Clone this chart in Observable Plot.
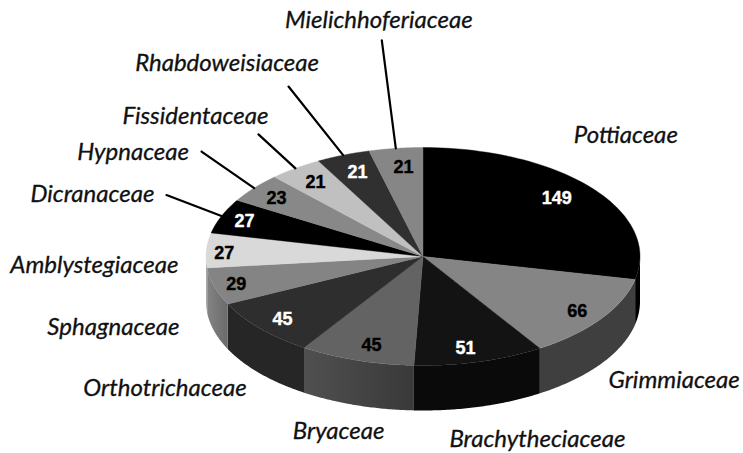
<!DOCTYPE html>
<html>
<head>
<meta charset="utf-8">
<style>
html,body{margin:0;padding:0;background:#fff}
svg{display:block}
</style>
<script src="https://cdn.jsdelivr.net/npm/d3@7"></script>
<script src="https://cdn.jsdelivr.net/npm/@observablehq/plot@0.6"></script>
</head>
<body>
<div id="chart"></div>
<script>
const families = ["Pottiaceae","Grimmiaceae","Brachytheciaceae","Bryaceae","Orthotrichaceae","Sphagnaceae","Amblystegiaceae","Dicranaceae","Hypnaceae","Fissidentaceae","Rhabdoweisiaceae","Mielichhoferiaceae"];
const counts = [149,66,51,45,45,29,27,27,23,21,21,21];

const topColors = ["#000000","#858585","#131313","#636363","#2e2e2e","#848484","#d9d9d9","#000000","#888888","#c0c0c0","#303030","#868686"];
const wallColors = ["#000000","#3f3f3f","#0a0a0a","url(#wallBry)","#262626","url(#wallSph)","#a8a8a8","#000000","#555555","#808080","#202020","#555555"];
const countColors = ["#fff","#000","#fff","#000","#fff","#000","#000","#fff","#000","#000","#fff","#000"];

// placement, in pixels, relative to the middle of each slice's rim
const nameOffset = [[34,-53],[73,62],[58,78],[-18,71],[-95,60],[-101,41],[-112,15],[-129,-22],[-121,-36],[-100,-52],[-116,-92],[-17,-128]];
const countOffset = [[-35,10.5],[-24,-7],[-14,-14],[15,-15],[22.5,-9],[22,-2],[18,3],[23,5.4],[22.4,10.5],[20,14],[14.4,17.4],[7.7,19]];
const leaderOffset = [null,null,null,null,null,null,null,[-55,-21],[-52.6,-36.5],[-37,-34],[-54.6,-68.6],[-14,-108]];

const W = 743, H = 453, cx = 422.5, cy = 256, rx = 217, ry = 109, depth = 45;
const total = d3.sum(counts);
const rad = d => d * Math.PI / 180;

let acc = 0;
const slices = families.map((name, i) => {
  const a0 = acc / total * 360; acc += counts[i];
  const a1 = acc / total * 360; const mid = (a0 + a1) / 2;
  return {name, value: counts[i], i, a0, a1, mx: Math.sin(rad(mid)), my: Math.cos(rad(mid))};
});
const arc = (a0, a1) => d3.range(0, 61).map(k => { const a = rad(a0 + (a1 - a0) * k / 60); return [Math.sin(a), Math.cos(a)]; });

const tops = slices.flatMap(s => [[0,0], ...arc(s.a0, s.a1), [0,0]].map(([x,y]) => ({x, y, name: s.name, fill: topColors[s.i]})));
const walls = slices.filter(s => s.a1 > 90 && s.a0 < 270).flatMap(s => {
  const pts = arc(Math.max(s.a0, 90), Math.min(s.a1, 270));
  const d = depth / ry;
  return [...pts, ...pts.slice().reverse().map(([x,y]) => [x, y - d]), pts[0]].map(([x,y]) => ({x, y, name: s.name, fill: wallColors[s.i]}));
});
const nameRows = slices.map(s => ({...s, x: s.mx + nameOffset[s.i][0] / rx, y: s.my - nameOffset[s.i][1] / ry}));
const countRows = slices.map(s => ({...s, x: s.mx + countOffset[s.i][0] / rx, y: s.my - countOffset[s.i][1] / ry, color: countColors[s.i]}));
const leaders = slices.filter(s => leaderOffset[s.i]).flatMap(s => [
  {x: s.mx, y: s.my, name: s.name},
  {x: s.mx + leaderOffset[s.i][0] / rx, y: s.my - leaderOffset[s.i][1] / ry, name: s.name}
]);

const defs = () => {
  const ns = "http://www.w3.org/2000/svg";
  const d = document.createElementNS(ns, "defs");
  d.innerHTML = `<linearGradient id="wallBry" x1="0" x2="1" y1="0" y2="0"><stop offset="0" stop-color="#505050"/><stop offset="1" stop-color="#393939"/></linearGradient>
  <linearGradient id="wallSph" x1="0" x2="1" y1="0" y2="0"><stop offset="0" stop-color="#848484"/><stop offset="1" stop-color="#6a6a6a"/></linearGradient>`;
  return d;
};

const chart = Plot.plot({
  width: W, height: H,
  margin: 0,
  x: {domain: [-cx / rx, (W - cx) / rx], range: [0, W], axis: null},
  y: {domain: [cy / ry, (cy - H) / ry], range: [0, H], axis: null},
  color: {type: "identity"},
  style: {background: "#fff"},
  marks: [
    defs,
    Plot.line(walls, {x: "x", y: "y", z: "name", fill: "fill", stroke: "none"}),
    Plot.line(tops, {x: "x", y: "y", z: "name", fill: "fill", stroke: "fill", strokeWidth: 0.4}),
    Plot.line(leaders, {x: "x", y: "y", z: "name", stroke: "#000", strokeWidth: 2.2}),
    Plot.text(countRows, {x: "x", y: "y", text: d => String(d.value), fill: "color", stroke: "color", strokeWidth: 0.4, fontFamily: "Liberation Sans", fontWeight: "bold", fontSize: 18}),
    Plot.text(nameRows, {x: "x", y: "y", text: "name", fill: "#111", stroke: "#111", strokeWidth: 0.3, fontFamily: "Lato", fontStyle: "italic", fontSize: 24})
  ]
});
document.getElementById("chart").append(chart);
</script>
</body>
</html>
